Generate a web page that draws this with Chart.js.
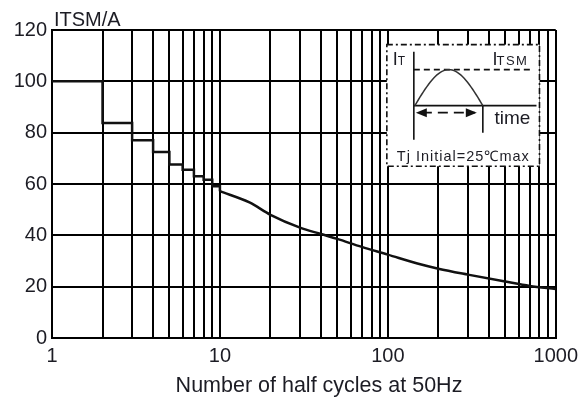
<!DOCTYPE html>
<html>
<head>
<meta charset="utf-8">
<script src="https://cdn.jsdelivr.net/npm/chart.js@4/dist/chart.umd.min.js"></script>
<style>
  html, body { margin: 0; padding: 0; background: #fff; }
  #wrap { width: 584px; height: 398px; }
</style>
</head>
<body>
<div id="wrap"><canvas id="surge-chart" width="584" height="398"></canvas></div>
<script>
// peak surge current (A) vs number of half cycles at 50Hz
const stepCycles  = [1, 2, 3, 4, 5, 6, 7, 8, 9, 10];
const stepCurrent = [100, 83.8, 77, 72.5, 67.6, 65.6, 63, 61.7, 59.1, 57.2];
const tailCycles  = [10, 15, 20, 30, 40, 50, 70, 100, 150, 200, 300, 500, 700, 1000];
const tailCurrent = [57.2, 52.8, 48, 43, 40.5, 38.6, 35.5, 32.5, 29, 27, 24.7, 22, 20.3, 19.1];

const yTicks   = [0, 20, 40, 60, 80, 100, 120];
const xLabels  = [1, 10, 100, 1000];
const xGridMantissa = [1, 2, 3, 4, 5, 6, 7, 8, 9];

const FONT = '"Liberation Sans", Arial, sans-serif';
const INK = '#1c1c24';

function toPoints(xs, ys) {
  return xs.map((x, i) => ({ x: x, y: ys[i] }));
}

// log grid: 1..9 in each decade plus the last decade line
function xGridValues() {
  const vals = [];
  xLabels.slice(0, -1).forEach(d => xGridMantissa.forEach(m => vals.push(m * d)));
  vals.push(xLabels[xLabels.length - 1]);
  return vals;
}

function arrowHead(ctx, tipX, y, dir) {
  ctx.beginPath();
  ctx.moveTo(tipX, y);
  ctx.lineTo(tipX - dir * 11, y - 4.5);
  ctx.lineTo(tipX - dir * 11, y + 4.5);
  ctx.closePath();
  ctx.fill();
}

const decor = {
  id: 'decor',
  afterDraw(chart) {
    const ctx = chart.ctx;
    const xs = chart.scales.x, ys = chart.scales.y;
    ctx.save();
    ctx.fillStyle = INK;

    // unit label above the y axis
    ctx.font = '20px ' + FONT;
    ctx.textAlign = 'left';
    ctx.textBaseline = 'alphabetic';
    ctx.fillText('ITSM/A', 54, 26);

    // x axis title
    ctx.textAlign = 'center';
    ctx.font = '21.5px ' + FONT;
    ctx.fillText('Number of half cycles at 50Hz', 319, 392);

    // waveform inset
    const L = xs.getPixelForValue(100) - 1;
    const R = xs.getPixelForValue(800);
    const T = ys.getPixelForValue(114.3);
    const B = ys.getPixelForValue(66.9);
    ctx.fillStyle = '#fff';
    ctx.fillRect(L, T, R - L, B - T);
    ctx.strokeStyle = '#111';
    ctx.lineWidth = 1.6;
    ctx.setLineDash([6, 3, 2, 3]);
    ctx.strokeRect(L, T, R - L, B - T);

    const ax = L + 27, base = T + 61, peak = T + 25, end = L + 96;
    ctx.setLineDash([]);
    ctx.lineWidth = 1.6;
    ctx.beginPath();
    ctx.moveTo(ax, T + 7); ctx.lineTo(ax, T + 95);
    ctx.moveTo(ax, base); ctx.lineTo(R - 3, base);
    ctx.moveTo(end, base); ctx.lineTo(end, T + 88);
    ctx.stroke();

    ctx.setLineDash([6, 4]);
    ctx.beginPath();
    ctx.moveTo(ax, peak); ctx.lineTo(R - 6, peak);
    ctx.stroke();

    // half sine pulse
    ctx.setLineDash([]);
    ctx.strokeStyle = '#333';
    ctx.lineWidth = 1.5;
    ctx.beginPath();
    for (let i = 0; i <= 40; i++) {
      const t = i / 40;
      const px = ax + 1 + t * (end - ax - 1);
      const py = base - Math.sin(Math.PI * t) * (base - peak);
      if (i === 0) ctx.moveTo(px, py); else ctx.lineTo(px, py);
    }
    ctx.stroke();

    // duration arrow
    const ay = base + 7;
    ctx.strokeStyle = '#111';
    ctx.fillStyle = '#111';
    ctx.lineWidth = 1.6;
    ctx.setLineDash([10, 6]);
    ctx.beginPath();
    ctx.moveTo(ax + 8, ay); ctx.lineTo(end - 8, ay);
    ctx.stroke();
    ctx.setLineDash([]);
    arrowHead(ctx, ax + 2, ay, -1);
    arrowHead(ctx, end - 6, ay, 1);

    // inset labels
    ctx.fillStyle = INK;
    ctx.textAlign = 'left';
    ctx.font = '18px ' + FONT;
    ctx.fillText('I', L + 6, T + 20);
    ctx.fillText('I', R - 47, T + 20);
    ctx.font = '12px ' + FONT;
    ctx.fillText('T', L + 11, T + 20);
    ctx.font = '13px ' + FONT;
    ctx.letterSpacing = '1.5px';
    ctx.fillText('TSM', R - 43, T + 20);
    ctx.letterSpacing = '0px';
    ctx.font = '19px ' + FONT;
    ctx.fillText('time', R - 45, T + 79);
    ctx.font = '14.5px ' + FONT;
    ctx.letterSpacing = '1px';
    ctx.fillText('Tj Initial=25\u2103max', L + 10, T + 116);

    ctx.restore();
  }
};

new Chart(document.getElementById('surge-chart'), {
  type: 'line',
  data: {
    datasets: [
      {
        data: toPoints(stepCycles, stepCurrent),
        stepped: true,
        borderColor: '#111',
        borderWidth: 2.5,
        pointRadius: 0
      },
      {
        data: toPoints(tailCycles, tailCurrent),
        cubicInterpolationMode: 'monotone',
        borderColor: '#111',
        borderWidth: 2.5,
        pointRadius: 0
      }
    ]
  },
  options: {
    responsive: false,
    animation: false,
    layout: { padding: { top: 30, right: 26, bottom: 0, left: 0 } },
    plugins: { legend: { display: false }, tooltip: { enabled: false } },
    scales: {
      x: {
        type: 'logarithmic',
        min: 1,
        max: 1000,
        afterBuildTicks: s => { s.ticks = xGridValues().map(v => ({ value: v })); },
        afterFit: s => { s.height = 60; },
        grid: { color: '#000', lineWidth: 2, drawTicks: false },
        border: { color: '#000', width: 2 },
        ticks: {
          autoSkip: false,
          maxRotation: 0,
          padding: 6,
          color: INK,
          font: { family: FONT, size: 20 },
          callback: v => xLabels.includes(v) ? String(v) : ''
        }
      },
      y: {
        min: yTicks[0],
        max: yTicks[yTicks.length - 1],
        afterBuildTicks: s => { s.ticks = yTicks.map(v => ({ value: v })); },
        afterFit: s => { s.width = 52; },
        grid: { color: '#000', lineWidth: 2, drawTicks: false },
        border: { color: '#000', width: 2 },
        ticks: {
          padding: 5,
          color: INK,
          font: { family: FONT, size: 20 }
        }
      }
    }
  },
  plugins: [decor]
});
</script>
</body>
</html>
